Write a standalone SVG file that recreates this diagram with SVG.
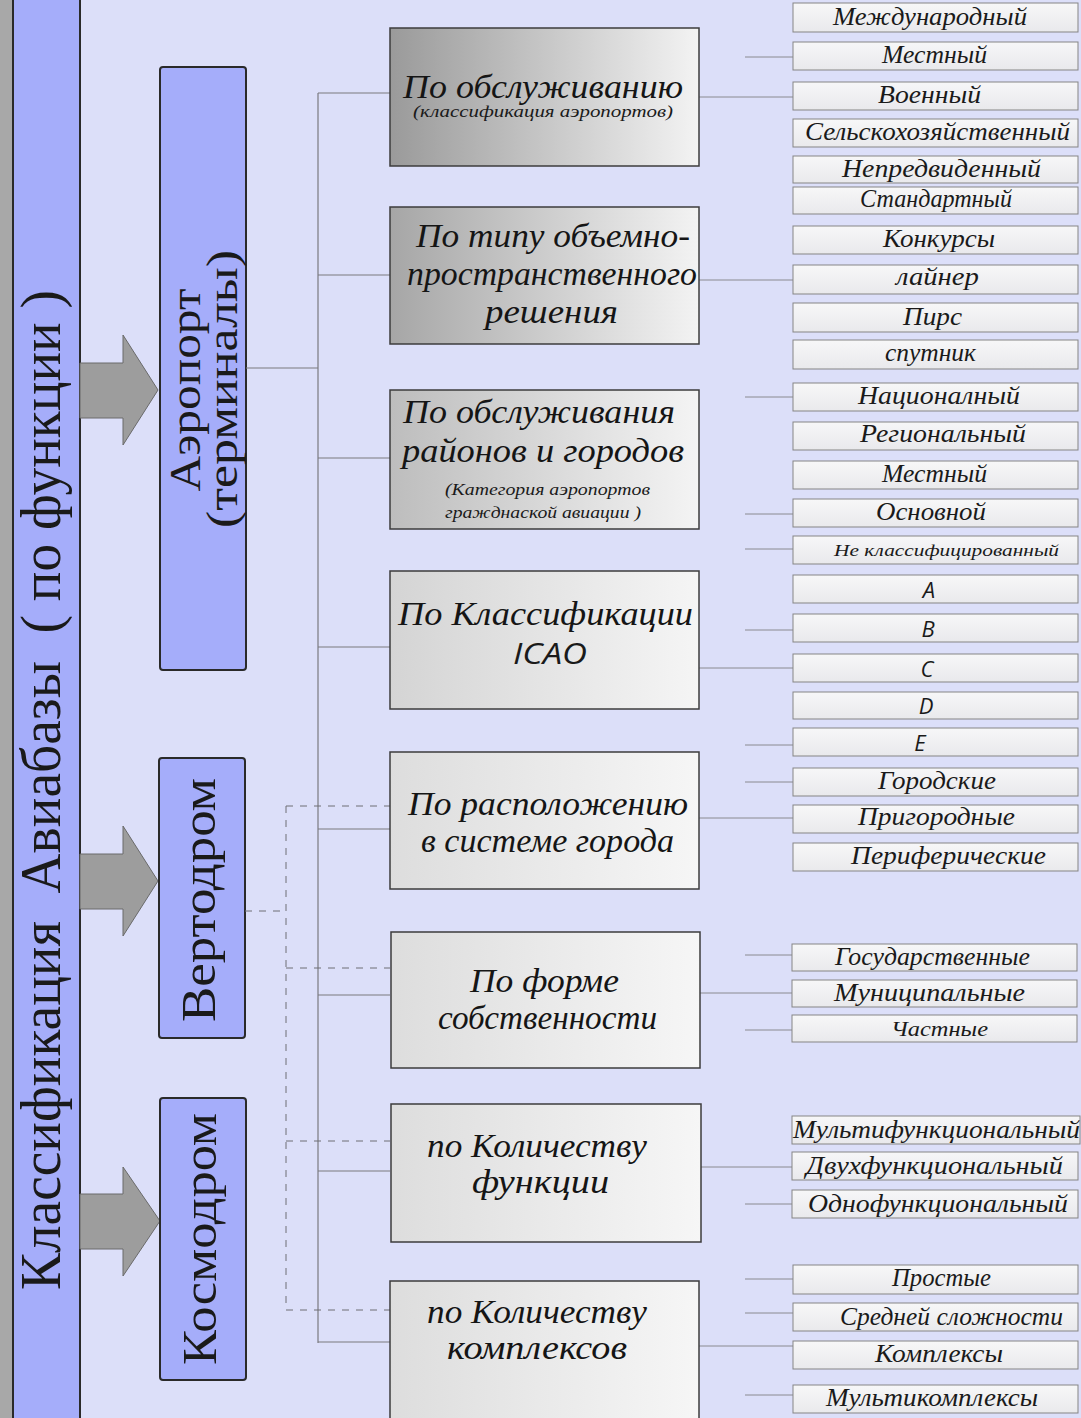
<svg xmlns="http://www.w3.org/2000/svg" width="1081" height="1418" viewBox="0 0 1081 1418">
<style>
.bg{fill:#dcdff9}
.blue{fill:#a5adfa;stroke:#2a2a2a;stroke-width:2}
.arrow{fill:#9d9d9d;stroke:#6a6a6a;stroke-width:1}
.mid{stroke:#3c3c3c;stroke-width:1.5}
.item{fill:url(#gItem);stroke:#858585;stroke-width:1}
.ln{stroke:#7a7a7f;stroke-width:1.2;fill:none}
.lnr{stroke:#8a8a90;stroke-width:1;fill:none}
.dash{stroke:#6e6e74;stroke-width:1;stroke-dasharray:7,7;fill:none}
.tb{font-family:"Liberation Serif","Times New Roman",serif;fill:#1a1a1a}
.tm{font-family:"Liberation Serif","Times New Roman",serif;font-style:italic;fill:#151515;font-size:33px}
.ts{font-family:"Liberation Serif","Times New Roman",serif;font-style:italic;fill:#1a1a1a;font-size:16px}
.ti{font-family:"Liberation Serif","Times New Roman",serif;font-style:italic;fill:#1a1a1a;font-size:25px}
.tl{font-family:"Open Sans","DejaVu Sans",sans-serif;font-style:italic;fill:#1a1a1a;font-size:22px}
</style>
<defs>
<linearGradient id="g1" x1="0" y1="0" x2="1" y2="0"><stop offset="0" stop-color="#9a9a9a"/><stop offset="1" stop-color="#f3f3f3"/></linearGradient>
<linearGradient id="g2" x1="0" y1="0" x2="1" y2="0"><stop offset="0" stop-color="#a6a6a6"/><stop offset="1" stop-color="#f3f3f3"/></linearGradient>
<linearGradient id="g3" x1="0" y1="0" x2="1" y2="0"><stop offset="0" stop-color="#bdbdbd"/><stop offset="1" stop-color="#f4f4f4"/></linearGradient>
<linearGradient id="g4" x1="0" y1="0" x2="1" y2="0"><stop offset="0" stop-color="#d4d4d4"/><stop offset="1" stop-color="#f5f5f5"/></linearGradient>
<linearGradient id="g5" x1="0" y1="0" x2="1" y2="0"><stop offset="0" stop-color="#dddddd"/><stop offset="1" stop-color="#f6f6f6"/></linearGradient>
<linearGradient id="gItem" x1="0" y1="0" x2="0" y2="1"><stop offset="0" stop-color="#f7f7f8"/><stop offset="1" stop-color="#e9e9ec"/></linearGradient>
</defs>
<rect class="bg" x="0" y="0" width="1081" height="1418"/>

<g id="root">
<rect x="0" y="0" width="13" height="1418" fill="#a8a8a8"/>
<rect class="blue" x="13" y="-3" width="67" height="1424"/>
<text class="tb" font-size="56" xml:space="preserve" transform="translate(60,790) rotate(-90)" text-anchor="middle" textLength="1000" lengthAdjust="spacingAndGlyphs">Классификация  Авиабазы  ( по функции )</text>
</g>

<g id="arrows">
<polygon class="arrow" points="80,363 123,363 123,335 158,390 123,445 123,418 80,418"/>
<polygon class="arrow" points="80,854 123,854 123,826 158,881 123,936 123,909 80,909"/>
<polygon class="arrow" points="80,1194 123,1194 123,1167 160,1221 123,1276 123,1249 80,1249"/>
</g>

<g id="airport">
<rect class="blue" x="160" y="67" width="86" height="603" rx="3"/>
<text class="tb" font-size="44" transform="translate(200,390) rotate(-90)" text-anchor="middle" textLength="203" lengthAdjust="spacingAndGlyphs">Аэропорт</text>
<text class="tb" font-size="44" transform="translate(237,389) rotate(-90)" text-anchor="middle" textLength="278" lengthAdjust="spacingAndGlyphs">(терминалы)</text>
</g>
<g id="heliport">
<rect class="blue" x="159" y="758" width="86" height="280" rx="3"/>
<text class="tb" font-size="48" transform="translate(215,900) rotate(-90)" text-anchor="middle" textLength="244" lengthAdjust="spacingAndGlyphs">Вертодром</text>
</g>
<g id="cosmodrome">
<rect class="blue" x="160" y="1098" width="86" height="282" rx="3"/>
<text class="tb" font-size="48" transform="translate(216,1239) rotate(-90)" text-anchor="middle" textLength="252" lengthAdjust="spacingAndGlyphs">Космодром</text>
</g>

<g id="connectors">
<line class="ln" x1="246" y1="368" x2="318" y2="368"/>
<line class="ln" x1="318" y1="93" x2="318" y2="1343"/>
<line class="ln" x1="318" y1="93" x2="390" y2="93"/>
<line class="ln" x1="318" y1="275" x2="390" y2="275"/>
<line class="ln" x1="318" y1="458" x2="390" y2="458"/>
<line class="ln" x1="318" y1="647" x2="390" y2="647"/>
<line class="ln" x1="318" y1="829" x2="390" y2="829"/>
<line class="ln" x1="318" y1="995" x2="390" y2="995"/>
<line class="ln" x1="318" y1="1171" x2="390" y2="1171"/>
<line class="ln" x1="318" y1="1342" x2="390" y2="1342"/>
<line class="dash" x1="245" y1="911" x2="286" y2="911"/>
<line class="dash" x1="286" y1="806" x2="286" y2="1310"/>
<line class="dash" x1="286" y1="806" x2="390" y2="806"/>
<line class="dash" x1="286" y1="968" x2="390" y2="968"/>
<line class="dash" x1="286" y1="1141" x2="390" y2="1141"/>
<line class="dash" x1="286" y1="1310" x2="390" y2="1310"/>
<line class="lnr" x1="745" y1="57" x2="793" y2="57"/>
<line class="lnr" x1="699" y1="97" x2="793" y2="97"/>
<line class="lnr" x1="699" y1="280" x2="793" y2="280"/>
<line class="lnr" x1="745" y1="397" x2="793" y2="397"/>
<line class="lnr" x1="745" y1="514" x2="793" y2="514"/>
<line class="lnr" x1="745" y1="549" x2="793" y2="549"/>
<line class="lnr" x1="745" y1="630" x2="793" y2="630"/>
<line class="lnr" x1="699" y1="668" x2="793" y2="668"/>
<line class="lnr" x1="745" y1="745" x2="793" y2="745"/>
<line class="lnr" x1="745" y1="782" x2="793" y2="782"/>
<line class="lnr" x1="699" y1="818" x2="793" y2="818"/>
<line class="lnr" x1="745" y1="955" x2="793" y2="955"/>
<line class="lnr" x1="699" y1="993" x2="793" y2="993"/>
<line class="lnr" x1="745" y1="1030" x2="793" y2="1030"/>
<line class="lnr" x1="699" y1="1167" x2="793" y2="1167"/>
<line class="lnr" x1="745" y1="1204" x2="793" y2="1204"/>
<line class="lnr" x1="745" y1="1279" x2="793" y2="1279"/>
<line class="lnr" x1="745" y1="1313" x2="793" y2="1313"/>
<line class="lnr" x1="699" y1="1346" x2="793" y2="1346"/>
<line class="lnr" x1="745" y1="1395" x2="793" y2="1395"/>
</g>

<g id="m1">
<rect class="mid" fill="url(#g1)" x="390" y="28" width="309" height="138"/>
<text class="tm" x="403" y="98" textLength="280" lengthAdjust="spacingAndGlyphs">По обслуживанию</text>
<text class="ts" x="413" y="117" textLength="260" lengthAdjust="spacingAndGlyphs">(классификация аэропортов)</text>
</g>
<g id="m2">
<rect class="mid" fill="url(#g2)" x="390" y="207" width="309" height="137"/>
<text class="tm" x="416" y="247" textLength="274" lengthAdjust="spacingAndGlyphs">По типу объемно-</text>
<text class="tm" x="407" y="285" textLength="290" lengthAdjust="spacingAndGlyphs">пространственного</text>
<text class="tm" x="485" y="323" textLength="133" lengthAdjust="spacingAndGlyphs">решения</text>
</g>
<g id="m3">
<rect class="mid" fill="url(#g3)" x="390" y="390" width="309" height="139"/>
<text class="tm" x="403" y="423" textLength="272" lengthAdjust="spacingAndGlyphs">По обслуживания</text>
<text class="tm" x="402" y="462" textLength="282" lengthAdjust="spacingAndGlyphs">районов и городов</text>
<text class="ts" x="445" y="495" textLength="205" lengthAdjust="spacingAndGlyphs">(Категория аэропортов</text>
<text class="ts" x="445" y="518" textLength="196" lengthAdjust="spacingAndGlyphs">гражднаской авиации )</text>
</g>
<g id="m4">
<rect class="mid" fill="url(#g4)" x="390" y="571" width="309" height="138"/>
<text class="tm" x="398" y="625" textLength="295" lengthAdjust="spacingAndGlyphs">По Классификации</text>
<text class="tl" style="font-size:29px" x="513" y="664" textLength="74" lengthAdjust="spacingAndGlyphs">ICAO</text>
</g>
<g id="m5">
<rect class="mid" fill="url(#g5)" x="390" y="752" width="309" height="137"/>
<text class="tm" x="408" y="815" textLength="280" lengthAdjust="spacingAndGlyphs">По расположению</text>
<text class="tm" x="421" y="852" textLength="253" lengthAdjust="spacingAndGlyphs">в системе города</text>
</g>
<g id="m6">
<rect class="mid" fill="url(#g5)" x="391" y="932" width="309" height="136"/>
<text class="tm" x="470" y="992" textLength="149" lengthAdjust="spacingAndGlyphs">По форме</text>
<text class="tm" x="438" y="1029" textLength="219" lengthAdjust="spacingAndGlyphs">собственности</text>
</g>
<g id="m7">
<rect class="mid" fill="url(#g5)" x="391" y="1104" width="310" height="138"/>
<text class="tm" x="427" y="1157" textLength="220" lengthAdjust="spacingAndGlyphs">по Количеству</text>
<text class="tm" x="472" y="1193" textLength="137" lengthAdjust="spacingAndGlyphs">функции</text>
</g>
<g id="m8">
<rect class="mid" fill="url(#g5)" x="390" y="1281" width="309" height="140"/>
<text class="tm" x="427" y="1323" textLength="220" lengthAdjust="spacingAndGlyphs">по Количеству</text>
<text class="tm" x="447" y="1359" textLength="180" lengthAdjust="spacingAndGlyphs">комплексов</text>
</g>

<g id="items">
<g id="i1"><rect class="item" x="793" y="3" width="285" height="29"/><text class="ti" x="833" y="25" textLength="194" lengthAdjust="spacingAndGlyphs">Международный</text></g>
<g id="i2"><rect class="item" x="793" y="42" width="285" height="28"/><text class="ti" x="882" y="63" textLength="105" lengthAdjust="spacingAndGlyphs">Местный</text></g>
<g id="i3"><rect class="item" x="793" y="82" width="285" height="28"/><text class="ti" x="878" y="103" textLength="103" lengthAdjust="spacingAndGlyphs">Военный</text></g>
<g id="i4"><rect class="item" x="793" y="119" width="285" height="28"/><text class="ti" x="805" y="140" textLength="265" lengthAdjust="spacingAndGlyphs">Сельскохозяйственный</text></g>
<g id="i5"><rect class="item" x="793" y="156" width="285" height="27"/><text class="ti" x="842" y="177" textLength="199" lengthAdjust="spacingAndGlyphs">Непредвиденный</text></g>
<g id="i6"><rect class="item" x="793" y="187" width="285" height="27"/><text class="ti" x="860" y="207" textLength="152" lengthAdjust="spacingAndGlyphs">Стандартный</text></g>
<g id="i7"><rect class="item" x="793" y="226" width="285" height="28"/><text class="ti" x="883" y="247" textLength="112" lengthAdjust="spacingAndGlyphs">Конкурсы</text></g>
<g id="i8"><rect class="item" x="793" y="265" width="285" height="29"/><text class="ti" x="896" y="285" textLength="83" lengthAdjust="spacingAndGlyphs">лайнер</text></g>
<g id="i9"><rect class="item" x="793" y="303" width="285" height="29"/><text class="ti" x="903" y="325" textLength="59" lengthAdjust="spacingAndGlyphs">Пирс</text></g>
<g id="i10"><rect class="item" x="793" y="340" width="285" height="29"/><text class="ti" x="885" y="361" textLength="91" lengthAdjust="spacingAndGlyphs">спутник</text></g>
<g id="i11"><rect class="item" x="793" y="383" width="285" height="28"/><text class="ti" x="858" y="404" textLength="162" lengthAdjust="spacingAndGlyphs">Националный</text></g>
<g id="i12"><rect class="item" x="793" y="422" width="285" height="28"/><text class="ti" x="860" y="442" textLength="166" lengthAdjust="spacingAndGlyphs">Региональный</text></g>
<g id="i13"><rect class="item" x="793" y="461" width="285" height="28"/><text class="ti" x="882" y="482" textLength="105" lengthAdjust="spacingAndGlyphs">Местный</text></g>
<g id="i14"><rect class="item" x="793" y="499" width="285" height="28"/><text class="ti" x="876" y="520" textLength="110" lengthAdjust="spacingAndGlyphs">Основной</text></g>
<g id="i15"><rect class="item" x="793" y="536" width="285" height="28"/><text class="ti" style="font-size:17px" x="834" y="556" textLength="225" lengthAdjust="spacingAndGlyphs">Не классифицированный</text></g>
<g id="i16"><rect class="item" x="793" y="575" width="285" height="28"/><text class="tl" x="929" y="598" text-anchor="middle">A</text></g>
<g id="i17"><rect class="item" x="793" y="614" width="285" height="28"/><text class="tl" x="928" y="637" text-anchor="middle">B</text></g>
<g id="i18"><rect class="item" x="793" y="654" width="285" height="28"/><text class="tl" x="927" y="677" text-anchor="middle">C</text></g>
<g id="i19"><rect class="item" x="793" y="692" width="285" height="27"/><text class="tl" x="926" y="714" text-anchor="middle">D</text></g>
<g id="i20"><rect class="item" x="793" y="728" width="285" height="28"/><text class="tl" x="920" y="751" text-anchor="middle">E</text></g>
<g id="i21"><rect class="item" x="793" y="768" width="285" height="28"/><text class="ti" x="878" y="789" textLength="118" lengthAdjust="spacingAndGlyphs">Городские</text></g>
<g id="i22"><rect class="item" x="793" y="805" width="285" height="28"/><text class="ti" x="858" y="825" textLength="157" lengthAdjust="spacingAndGlyphs">Пригородные</text></g>
<g id="i23"><rect class="item" x="793" y="843" width="285" height="28"/><text class="ti" x="851" y="864" textLength="195" lengthAdjust="spacingAndGlyphs">Периферические</text></g>
<g id="i24"><rect class="item" x="792" y="944" width="285" height="27"/><text class="ti" x="835" y="965" textLength="195" lengthAdjust="spacingAndGlyphs">Государственные</text></g>
<g id="i25"><rect class="item" x="792" y="980" width="285" height="27"/><text class="ti" x="834" y="1001" textLength="191" lengthAdjust="spacingAndGlyphs">Муниципальные</text></g>
<g id="i26"><rect class="item" x="792" y="1015" width="285" height="27"/><text class="ti" style="font-size:22px" x="891" y="1036" textLength="97" lengthAdjust="spacingAndGlyphs">Частные</text></g>
<g id="i27"><rect class="item" x="792" y="1116" width="288" height="28"/><text class="ti" x="793" y="1138" textLength="287" lengthAdjust="spacingAndGlyphs">Мультифункциональный</text></g>
<g id="i28"><rect class="item" x="792" y="1152" width="286" height="28"/><text class="ti" x="806" y="1174" textLength="257" lengthAdjust="spacingAndGlyphs">Двухфункциональный</text></g>
<g id="i29"><rect class="item" x="792" y="1190" width="286" height="28"/><text class="ti" x="808" y="1212" textLength="260" lengthAdjust="spacingAndGlyphs">Однофункциональный</text></g>
<g id="i30"><rect class="item" x="793" y="1265" width="285" height="29"/><text class="ti" x="892" y="1286" textLength="99" lengthAdjust="spacingAndGlyphs">Простые</text></g>
<g id="i31"><rect class="item" x="793" y="1303" width="285" height="28"/><text class="ti" x="840" y="1325" textLength="223" lengthAdjust="spacingAndGlyphs">Средней сложности</text></g>
<g id="i32"><rect class="item" x="793" y="1341" width="285" height="28"/><text class="ti" x="875" y="1362" textLength="128" lengthAdjust="spacingAndGlyphs">Комплексы</text></g>
<g id="i33"><rect class="item" x="793" y="1385" width="285" height="28"/><text class="ti" x="826" y="1406" textLength="212" lengthAdjust="spacingAndGlyphs">Мультикомплексы</text></g>
</g>
</svg>
